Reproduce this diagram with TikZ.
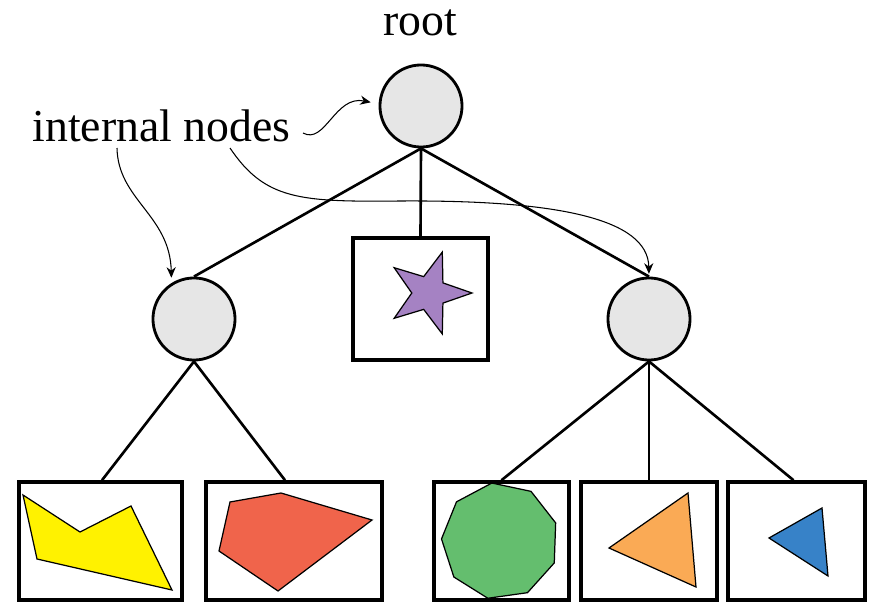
\documentclass[tikz,border=0pt]{standalone}
\usepackage{fontspec}
\setmainfont{Liberation Serif}
\usetikzlibrary{arrows.meta,shapes.geometric}
\definecolor{nodegray}{HTML}{E6E6E6}
\definecolor{yellowc}{HTML}{FFF200}
\definecolor{redc}{HTML}{F0644B}
\definecolor{greenc}{HTML}{64BE6E}
\definecolor{orangec}{HTML}{FAAA55}
\definecolor{bluec}{HTML}{3782C8}
\definecolor{purplec}{HTML}{A582C3}
\tikzset{
  inode/.style={circle, draw, line width=0.8pt, fill=nodegray, minimum size=0.82cm, inner sep=0pt},
  leaf/.style={rectangle, draw, line width=1pt, minimum height=1.18cm, inner sep=0pt},
  branch/.style={line width=0.75pt},
  hint/.style={-{Stealth[length=3pt,width=2.6pt]}, line width=0.3pt},
  shp/.style={draw, line width=0.35pt},
}
\begin{document}
\begin{tikzpicture}[x=0.01cm, y=-0.01cm, font=\fontsize{13}{15}\selectfont]
  \useasboundingbox (0,0) rectangle (875,603);
  % internal nodes
  \node[inode] (root) at (421,106) {};
  \node[inode] (lft)  at (194,319) {};
  \node[inode] (rgt)  at (649,319) {};
  % leaves
  \node[leaf, minimum width=1.35cm, minimum height=1.22cm] (s) at (420.5,299) {};
  \node[leaf, minimum width=1.63cm] (a) at (100.5,541) {};
  \node[leaf, minimum width=1.76cm] (b) at (294,541) {};
  \node[leaf, minimum width=1.35cm] (c) at (501.5,541) {};
  \node[leaf, minimum width=1.36cm] (d) at (649,541) {};
  \node[leaf, minimum width=1.37cm] (e) at (796.5,541) {};
  % labels
  \node[anchor=base] (rootlbl) at (420,35) {root};
  \node[anchor=base west, inner sep=0pt] (intlbl) at (32,142) {internal nodes};
  % tree edges
  \draw[branch] (root.south) -- (lft.north);
  \draw[branch] (root.south) -- (s.north);
  \draw[branch] (root.south) -- (rgt.north);
  \draw[branch] (lft.south) -- ([xshift=0.015cm]a.north);
  \draw[branch] (lft.south) -- ([xshift=-0.09cm]b.north);
  \draw[branch] (rgt.south) -- (c.north);
  \draw[branch] (rgt.south) -- (d.north);
  \draw[branch] (rgt.south) -- ([xshift=-0.03cm]e.north);
  % pointers from the label
  \coordinate (p1) at (303,133);
  \coordinate (p2) at (117,148);
  \coordinate (p3) at (230,148);
  \draw[hint] (p1) .. controls (325,145) and (335,95) .. ([xshift=-0.08cm]root.175);
  \draw[hint, shorten >=1.5pt] (p2) .. controls (118,200) and (170,215) .. (lft.122);
  \draw[hint, shorten >=0.8pt] (p3) .. controls (265,200) and (300,202) .. (400,201)
    .. controls (555,200) and (648,218) .. (rgt.north);
  % leaf contents
  \node[star, star points=5, star point ratio=2.5, shp, fill=purplec,
    minimum size=0.86cm, inner sep=0pt, shape border rotate=-18] (pentstar) at (429,293) {};
  \draw[shp, fill=yellowc] (23,495) -- (80,532) -- (131,506) -- (172,590) -- (37,559) -- cycle;
  \draw[shp, fill=redc] (230,502) -- (281,493) -- (372,520) -- (278,591) -- (219,551) -- cycle;
  \node[regular polygon, regular polygon sides=9, shp, fill=greenc,
    minimum size=1.17cm, inner sep=0pt, shape border rotate=8] (nonagon) at (500,541) {};
  \draw[shp, fill=orangec] (609,548) -- (688,493) -- (696,587) -- cycle;
  \draw[shp, fill=bluec] (769,538) -- (822,508) -- (828,576) -- cycle;
\end{tikzpicture}
\end{document}
